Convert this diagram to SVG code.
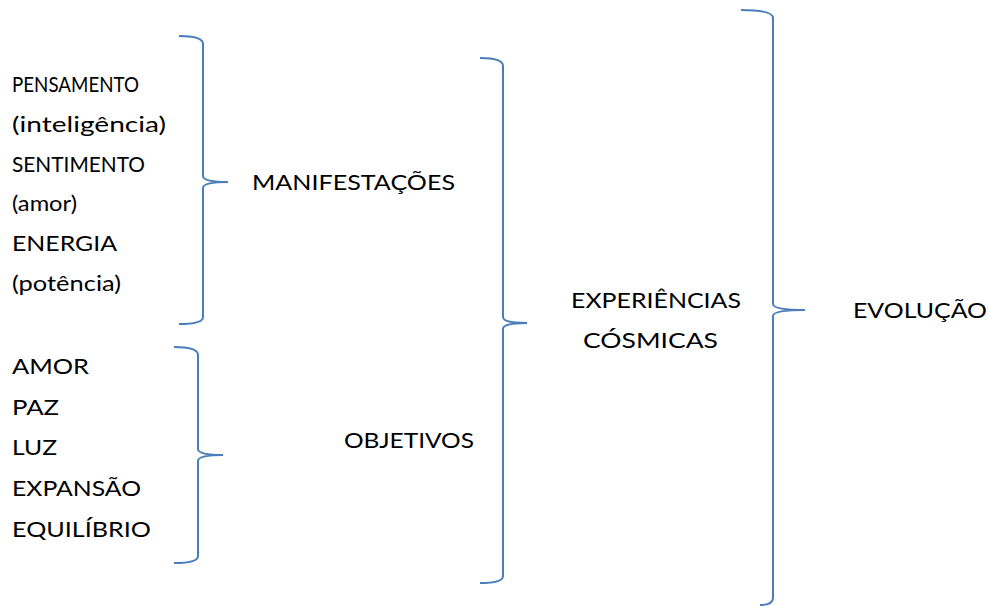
<svg xmlns="http://www.w3.org/2000/svg" width="988" height="607" viewBox="0 0 988 607">
<style>
text{font-family:Lato,"Open Sans","Liberation Sans",sans-serif;font-size:22px;fill:#000}
.brace{fill:none;stroke:#4a7ebb;stroke-width:2}
</style>
<rect width="988" height="607" fill="#fff"/>
<g id="connectors">
<path class="brace" d="M179,36 Q203,36 203,44 L203,176 Q203,182 228,182 Q203,182 203,188 L203,317 Q203,324 179,324"/>
<path class="brace" d="M174,347 Q198,347 198,355 L198,449 Q198,455 223,455 Q198,455 198,461 L198,556 Q198,563 174,563"/>
<path class="brace" d="M480,58 Q503,58 503,66 L503,317 Q503,323 527,323 Q503,323 503,329 L503,576 Q503,583 480,583"/>
<path class="brace" d="M741,10 Q773,10 773,18 L773,304 Q773,310 805,310 Q773,310 773,316 L773,598 Q773,605 760,605"/>
</g>
<g id="manifestacoes-list">
<text x="12" y="92" textLength="127" lengthAdjust="spacingAndGlyphs">PENSAMENTO</text>
<text x="12" y="132" textLength="154" lengthAdjust="spacingAndGlyphs">(inteligência)</text>
<text x="12" y="172" textLength="133" lengthAdjust="spacingAndGlyphs">SENTIMENTO</text>
<text x="12" y="211" textLength="65" lengthAdjust="spacingAndGlyphs">(amor)</text>
<text x="12" y="251" textLength="105" lengthAdjust="spacingAndGlyphs">ENERGIA</text>
<text x="12" y="291" textLength="109" lengthAdjust="spacingAndGlyphs">(potência)</text>
</g>
<g id="objetivos-list">
<text x="12" y="374" textLength="77" lengthAdjust="spacingAndGlyphs">AMOR</text>
<text x="12" y="415" textLength="47" lengthAdjust="spacingAndGlyphs">PAZ</text>
<text x="12" y="455" textLength="45" lengthAdjust="spacingAndGlyphs">LUZ</text>
<text x="12" y="496" textLength="129" lengthAdjust="spacingAndGlyphs">EXPANSÃO</text>
<text x="12" y="537" textLength="139" lengthAdjust="spacingAndGlyphs">EQUILÍBRIO</text>
</g>
<g id="manifestacoes">
<text x="252" y="190" textLength="203" lengthAdjust="spacingAndGlyphs">MANIFESTAÇÕES</text>
</g>
<g id="objetivos">
<text x="344" y="448" textLength="130" lengthAdjust="spacingAndGlyphs">OBJETIVOS</text>
</g>
<g id="experiencias">
<text x="571" y="308" textLength="170" lengthAdjust="spacingAndGlyphs">EXPERIÊNCIAS</text>
<text x="583" y="348" textLength="135" lengthAdjust="spacingAndGlyphs">CÓSMICAS</text>
</g>
<g id="evolucao">
<text x="853" y="318" textLength="134" lengthAdjust="spacingAndGlyphs">EVOLUÇÃO</text>
</g>
</svg>
